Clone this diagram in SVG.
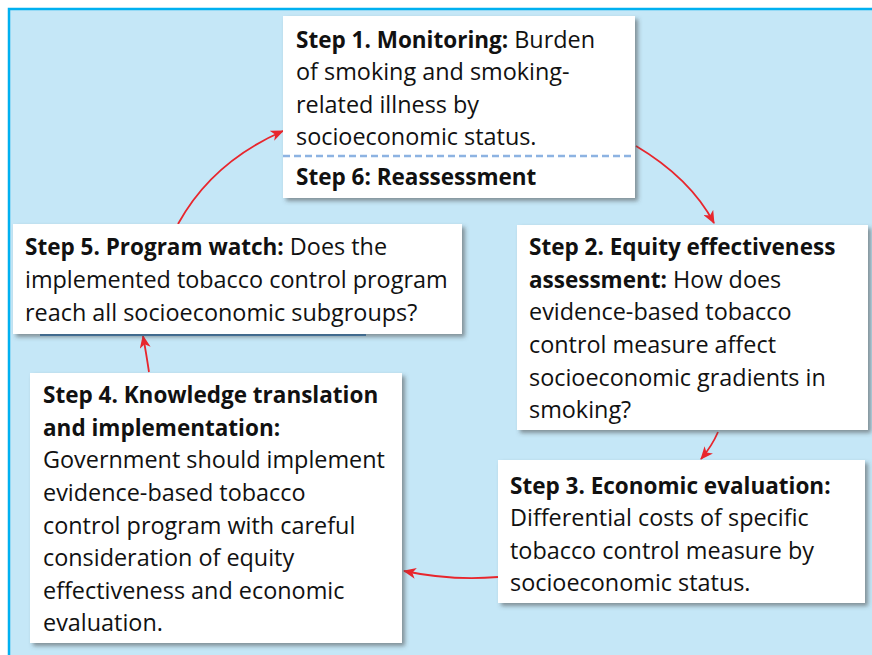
<svg xmlns="http://www.w3.org/2000/svg" width="872" height="655" viewBox="0 0 872 655">
  <style>
    .bg { fill: #c5e7f7; }
    .frame { fill: none; stroke: #00b0f0; stroke-width: 2.5; }
    .box { fill: #ffffff; filter: url(#shadow); }
    .txt { font-family: "Open Sans", "Liberation Sans", sans-serif; font-size: 23.4px; fill: #111111; }
    .b { font-weight: 700; font-size: 22.5px; }
    .link { fill: none; stroke: #e8262d; stroke-width: 1.8; marker-end: url(#head); }
    .sep { stroke: #8db3e2; stroke-width: 2.5; stroke-dasharray: 7 4; }
  </style>
  <defs>
    <filter id="shadow" x="-5%" y="-5%" width="115%" height="120%">
      <feDropShadow dx="3" dy="3" stdDeviation="2" flood-color="#4a4a4a" flood-opacity="0.55"/>
    </filter>
    <marker id="head" viewBox="0 0 13 11" refX="12" refY="5.5" markerWidth="13" markerHeight="11" markerUnits="userSpaceOnUse" orient="auto">
      <path d="M0,0 L13,5.5 L0,11 L3.5,5.5 z" fill="#e8262d"/>
    </marker>
  </defs>

  <!-- background panel -->
  <rect class="bg" x="9" y="9" width="863" height="646"/>
  <path class="frame" d="M9,655 V9 H872"/>

  <!-- connectors -->
  <g id="connectors">
    <path class="link" d="M178,224 Q212,162 283,131"/>
    <path class="link" d="M636,146 Q690,178 714,223"/>
    <path class="link" d="M718,432 Q712,446 701,459"/>
    <path class="link" d="M498,577 Q452,581 404,571"/>
    <path class="link" d="M149,372 Q146,352 143,336"/>
  </g>

  <!-- Step 1 / Step 6 -->
  <g id="step1">
    <rect class="box" x="283" y="16" width="352" height="182"/>
    <line class="sep" x1="283" y1="156" x2="635" y2="156"/>
    <text class="txt" x="296" y="48"><tspan class="b">Step 1. Monitoring:</tspan> Burden</text>
    <text class="txt" x="296" y="80">of smoking and smoking-</text>
    <text class="txt" x="296" y="113">related illness by</text>
    <text class="txt" x="296" y="145">socioeconomic status.</text>
    <text class="txt b" x="296" y="185">Step 6: Reassessment</text>
  </g>

  <!-- Step 5 -->
  <g id="step5">
    <rect x="40" y="333" width="326" height="3" fill="#3b86c6"/>
    <rect class="box" x="13" y="224" width="449" height="110"/>
    <text class="txt" x="25" y="255"><tspan class="b">Step 5. Program watch:</tspan> Does the</text>
    <text class="txt" x="25" y="288">implemented tobacco control program</text>
    <text class="txt" x="25" y="321">reach all socioeconomic subgroups?</text>
  </g>

  <!-- Step 2 -->
  <g id="step2">
    <rect class="box" x="517" y="225" width="351" height="205"/>
    <text class="txt b" x="529" y="255">Step 2. Equity effectiveness</text>
    <text class="txt" x="529" y="288"><tspan class="b">assessment:</tspan> How does</text>
    <text class="txt" x="529" y="320">evidence-based tobacco</text>
    <text class="txt" x="529" y="353">control measure affect</text>
    <text class="txt" x="529" y="386">socioeconomic gradients in</text>
    <text class="txt" x="529" y="418">smoking?</text>
  </g>

  <!-- Step 3 -->
  <g id="step3">
    <rect class="box" x="498" y="460" width="367" height="143"/>
    <text class="txt b" x="510" y="494">Step 3. Economic evaluation:</text>
    <text class="txt" x="510" y="526">Differential costs of specific</text>
    <text class="txt" x="510" y="559">tobacco control measure by</text>
    <text class="txt" x="510" y="591">socioeconomic status.</text>
  </g>

  <!-- Step 4 -->
  <g id="step4">
    <rect class="box" x="30" y="373" width="372" height="270"/>
    <text class="txt b" x="43" y="403">Step 4. Knowledge translation</text>
    <text class="txt b" x="43" y="436">and implementation:</text>
    <text class="txt" x="43" y="468">Government should implement</text>
    <text class="txt" x="43" y="501">evidence-based tobacco</text>
    <text class="txt" x="43" y="534">control program with careful</text>
    <text class="txt" x="43" y="566">consideration of equity</text>
    <text class="txt" x="43" y="599">effectiveness and economic</text>
    <text class="txt" x="43" y="631">evaluation.</text>
  </g>
</svg>
